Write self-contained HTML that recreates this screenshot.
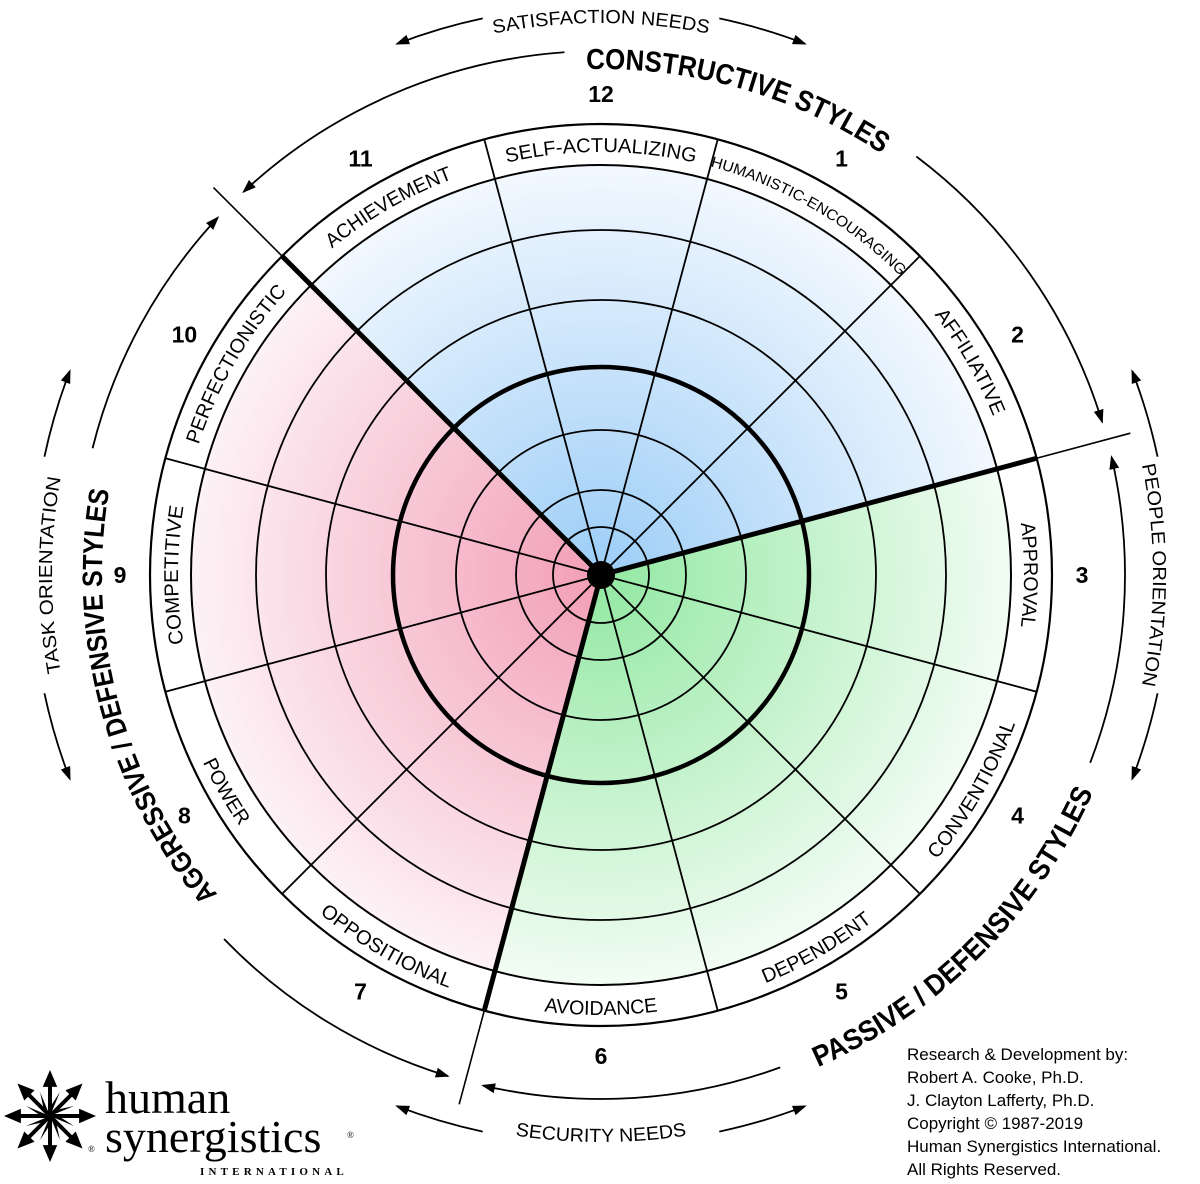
<!DOCTYPE html>
<html><head><meta charset="utf-8"><style>
html,body{margin:0;padding:0;background:#fff;}
svg{display:block;}
</style></head><body>
<svg id="chart" width="1200" height="1184" viewBox="0 0 1200 1184" xmlns="http://www.w3.org/2000/svg" font-family="'Liberation Sans', Arial, sans-serif">
<defs>
<radialGradient id="gBlue" gradientUnits="userSpaceOnUse" cx="601" cy="575" r="410"><stop offset="0" stop-color="#9ccdf7"/><stop offset="1" stop-color="#f2f8fe"/></radialGradient>
<radialGradient id="gGreen" gradientUnits="userSpaceOnUse" cx="601" cy="575" r="410"><stop offset="0" stop-color="#92e8a2"/><stop offset="1" stop-color="#f2fcf3"/></radialGradient>
<radialGradient id="gRed" gradientUnits="userSpaceOnUse" cx="601" cy="575" r="410"><stop offset="0" stop-color="#f29db6"/><stop offset="1" stop-color="#fdf2f6"/></radialGradient>
<marker id="arr" viewBox="0 0 14 10" refX="12" refY="5" markerWidth="14" markerHeight="10" markerUnits="userSpaceOnUse" orient="auto-start-reverse"><path d="M0,0 L14,5 L0,10 Z" fill="#000"/></marker>
</defs>
<g id="wheel"></g>
<g id="outer"></g>
<g id="logo">
<text x="105" y="1113" font-family="'Liberation Serif', serif" font-size="46">human</text>
<text x="105" y="1152" font-family="'Liberation Serif', serif" font-size="46">synergistics</text>
<text x="347" y="1138" font-family="'Liberation Serif', serif" font-size="9">®</text>
<text x="88" y="1152" font-family="'Liberation Serif', serif" font-size="9">®</text>
<text x="200" y="1175" font-family="'Liberation Serif', serif" font-size="11" font-weight="bold" letter-spacing="4.2">INTERNATIONAL</text>
<g id="star"></g>
</g>
<g font-size="17">
<text x="907" y="1060">Research &amp; Development by:</text>
<text x="907" y="1083">Robert A. Cooke, Ph.D.</text>
<text x="907" y="1106">J. Clayton Lafferty, Ph.D.</text>
<text x="907" y="1129">Copyright © 1987-2019</text>
<text x="907" y="1152">Human Synergistics International.</text>
<text x="907" y="1175">All Rights Reserved.</text>
</g>
</svg>
<script>
const styleNames = ["HUMANISTIC-ENCOURAGING","AFFILIATIVE","APPROVAL","CONVENTIONAL","DEPENDENT","AVOIDANCE","OPPOSITIONAL","POWER","COMPETITIVE","PERFECTIONISTIC","ACHIEVEMENT","SELF-ACTUALIZING"];
const styleNumbers = ["1","2","3","4","5","6","7","8","9","10","11","12"];
const labelLengths = [222,118,104,158,124,114,150,74,138,178,140,190];
const ringRadii = [48,85,145,208,275,345];
const thickRing = 208;
const clusterNames = ["constructive","passive","aggressive"];
const clusterStart = [-45,75,195];
const clusterFills = ["url(#gBlue)","url(#gGreen)","url(#gRed)"];

const NS="http://www.w3.org/2000/svg", CX=601, CY=575, R=451, RI=410;
function pt(a,r){const t=a*Math.PI/180;return [CX+r*Math.sin(t),CY-r*Math.cos(t)];}
function arc(a1,a2,r){const p=pt(a1,r),q=pt(a2,r);const sw=a2>a1?1:0;const la=Math.abs(a2-a1)>180?1:0;return `M${p[0].toFixed(2)},${p[1].toFixed(2)} A${r},${r} 0 ${la} ${sw} ${q[0].toFixed(2)},${q[1].toFixed(2)}`;}
function mk(tag,attrs,parent){const e=document.createElementNS(NS,tag);for(const k in attrs)e.setAttribute(k,attrs[k]);parent.appendChild(e);return e;}
const W=document.getElementById('wheel'), O=document.getElementById('outer'), defs=document.querySelector('defs');
const step=360/styleNames.length;

clusterNames.forEach((n,i)=>{
  const a1=clusterStart[i], a2=a1+120, p=pt(a1,RI), q=pt(a2,RI);
  const s=mk('path',{d:`M${CX},${CY} L${p[0]},${p[1]} A${RI},${RI} 0 0 1 ${q[0]},${q[1]} Z`,fill:clusterFills[i]},W);
  
  
});
const oc=mk('circle',{cx:CX,cy:CY,r:R,fill:'none',stroke:'#000','stroke-width':2.2},W);


const ic=mk('circle',{cx:CX,cy:CY,r:RI,fill:'none',stroke:'#000','stroke-width':2},W);


ringRadii.forEach((r,i)=>{
  const c=mk('circle',{cx:CX,cy:CY,r:r,fill:'none',stroke:'#000','stroke-width':r===thickRing?4.5:1.8},W);
  
  
});
for(let k=0;k<styleNames.length;k++){
  const a=step*k+step/2, q=pt(a,R);
  const thick=clusterStart.some(c=>((c-a)%360+360)%360===0);
  if(thick) continue;
  const l=mk('line',{x1:CX,y1:CY,x2:q[0],y2:q[1],stroke:'#000','stroke-width':1.8},W);
  
  
}
clusterStart.forEach((a,i)=>{
  const q=pt(a,R), e=pt(a,548);
  const l=mk('line',{x1:CX,y1:CY,x2:q[0],y2:q[1],stroke:'#000','stroke-width':5},W);
  
  
  const t=mk('line',{x1:q[0],y1:q[1],x2:e[0],y2:e[1],stroke:'#000','stroke-width':1.6},O);
  
  
});
const dot=mk('circle',{cx:CX,cy:CY,r:14,fill:'#000'},W);



styleNames.forEach((name,i)=>{
  const a=step*(i+1); const ang=((a%360)+360)%360;
  const bottom = ang>100 && ang<260;
  const id='lp'+i; let d;
  if(bottom) d=arc(ang+25,ang-25,440); else { const aa=ang>180?ang-360:ang; d=arc(aa-25,aa+25,423); }
  mk('path',{id:id,d:d,fill:'none'},defs);
  const t=mk('text',{'font-size':i===0?15:20,'text-anchor':'middle'},W);
  
  
  const tp=mk('textPath',{href:'#'+id,startOffset:'50%',textLength:labelLengths[i],lengthAdjust:'spacingAndGlyphs'},t);
  tp.textContent=name;
  const p=pt(a,481);
  const n=mk('text',{x:p[0],y:p[1]+8,'font-size':23,'font-weight':'bold','text-anchor':'middle'},O);
  
  
  n.textContent=styleNumbers[i];
});

function arrowArc(a1,a2,r,name,startArrow,endArrow){
  const p=mk('path',{d:arc(a1,a2,r),fill:'none',stroke:'#000','stroke-width':1.8},O);
  if(startArrow)p.setAttribute('marker-start','url(#arr)');
  if(endArrow)p.setAttribute('marker-end','url(#arr)');
  
  
}
function arcText(id,a1,a2,r,txt,size,bold,len,name){
  mk('path',{id:id,d:arc(a1,a2,r),fill:'none'},defs);
  const t=mk('text',{'font-size':size,'font-weight':bold?'bold':'normal','text-anchor':'middle'},O);
  
  
  const tp=mk('textPath',{href:'#'+id,startOffset:'50%',textLength:len,lengthAdjust:'spacingAndGlyphs'},t);
  tp.textContent=txt;
}
arrowArc(-4,-43,524,'constructive-arc-left',false,true);
arrowArc(37,73,524,'constructive-arc-right',false,true);
arrowArc(111,77,524,'passive-arc-right',false,true);
arrowArc(160,193,524,'passive-arc-left',false,true);
arrowArc(226,197,524,'aggressive-arc-bottom',false,true);
arrowArc(284,313,524,'aggressive-arc-top',false,true);
arcText('tc',-20,52,506,'CONSTRUCTIVE STYLES',29,true,312,'constructive-styles-title');
arcText('tp',180,90,538,'PASSIVE / DEFENSIVE STYLES',29,true,398,'passive-defensive-title');
arcText('ta',210,300,499,'AGGRESSIVE / DEFENSIVE STYLES',28,true,432,'aggressive-defensive-title');
arrowArc(-12,-21,569,'satisfaction-arrow-left',false,true);
arrowArc(12,21,569,'satisfaction-arrow-right',false,true);
arrowArc(78,69,569,'people-arrow-top',false,true);
arrowArc(102,111,569,'people-arrow-bottom',false,true);
arrowArc(168,159,569,'security-arrow-right',false,true);
arrowArc(192,201,569,'security-arrow-left',false,true);
arrowArc(258,249,569,'task-arrow-bottom',false,true);
arrowArc(282,291,569,'task-arrow-top',false,true);
arcText('tsn',-25,25,552,'SATISFACTION NEEDS',19,false,216,'satisfaction-needs-label');
arcText('tpo',65,115,552,'PEOPLE ORIENTATION',19,false,222,'people-orientation-label');
arcText('tsec',205,155,567,'SECURITY NEEDS',19,false,172,'security-needs-label');
arcText('tto',245,295,549,'TASK ORIENTATION',19,false,196,'task-orientation-label');

const S=document.getElementById('star'), sx=50, sy=1116;
for(let k=0;k<8;k++){
  const a=k*45;
  const tip=[sx+46*Math.sin(a*Math.PI/180), sy-46*Math.cos(a*Math.PI/180)];
  const b1=[sx+30*Math.sin((a-14)*Math.PI/180), sy-30*Math.cos((a-14)*Math.PI/180)];
  const b2=[sx+30*Math.sin((a+14)*Math.PI/180), sy-30*Math.cos((a+14)*Math.PI/180)];
  const h=mk('path',{d:`M${tip[0]},${tip[1]} L${b1[0]},${b1[1]} L${b2[0]},${b2[1]} Z`,fill:'#000'},S);
  
  
  const m=[sx+32*Math.sin(a*Math.PI/180), sy-32*Math.cos(a*Math.PI/180)];
  const l=mk('line',{x1:sx,y1:sy,x2:m[0],y2:m[1],stroke:'#000','stroke-width':4},S);
  
  
  const w1=[sx+26*Math.sin((a+22.5)*Math.PI/180), sy-26*Math.cos((a+22.5)*Math.PI/180)];
  const v=mk('path',{d:`M${sx},${sy} L${w1[0]},${w1[1]} L${sx+12*Math.sin((a+10)*Math.PI/180)},${sy-12*Math.cos((a+10)*Math.PI/180)} Z`,fill:'#000'},S);
  
  
}
</script>
</body></html>
